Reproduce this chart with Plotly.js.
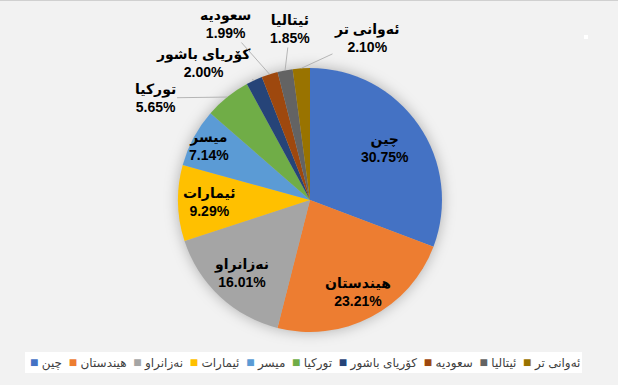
<!DOCTYPE html>
<html>
<head>
<meta charset="utf-8">
<script src="https://cdn.plot.ly/plotly-3.0.1.min.js"></script>
<style>
html,body{margin:0;padding:0;background:#f2f2f2;}
#chart{width:618px;height:385px;}
.pielayer .trace{filter:drop-shadow(0px 0px 7px rgba(0,0,0,0.28));}
</style>
</head>
<body>
<div id="chart"></div>
<script>
// ---- data ----
const categories = ["چین","هیندستان","نەزانراو","ئیمارات","میسر","تورکیا","کۆریای باشور","سعودیە","ئیتالیا","ئەوانی تر"];
const values = [30.75, 23.21, 16.01, 9.29, 7.14, 5.65, 2.00, 1.99, 1.85, 2.10];
const colors = ["#4472C4","#ED7D31","#A5A5A5","#FFC000","#5B9BD5","#70AD47","#264478","#9E480E","#636363","#997300"];

// ---- layout constants ----
const W = 618, H = 385;
const CX = 310, CY = 200, R = 132;
// inside labels: radius factor per slice index
const insideLabels = {0:0.69, 1:0.79, 2:0.76, 3:0.76, 4:0.87};
// outside labels: label centre (px from top-left)
const outsideLabels = {5:[155,98], 6:[203,63], 7:[225,24], 8:[290,29], 9:[367,38]};

const total = values.reduce((a,b)=>a+b,0);
let cum = 0;
const mids = values.map(v => { const m = (cum + v/2)/total; cum += v; return m; });

const fmt = v => v.toFixed(2) + "%";
const labelFont = {family:"Arial, 'Liberation Sans', 'DejaVu Sans', sans-serif", size:14, color:"#000"};
const annotations = [];
values.forEach((v,i) => {
  const th = 2*Math.PI*mids[i];
  const txt = "<b>" + categories[i] + "</b><br><b>" + fmt(v) + "</b>";
  if (insideLabels[i] !== undefined) {
    const r = R*insideLabels[i];
    const px = CX + r*Math.sin(th), py = CY - r*Math.cos(th);
    annotations.push({xref:"paper", yref:"paper", x:px/W, y:1-py/H, text:txt, showarrow:false,
      font:labelFont, xanchor:"center", yanchor:"middle", align:"center"});
  } else {
    const px = CX + R*Math.sin(th), py = CY - R*Math.cos(th);
    const [lx, ly] = outsideLabels[i];
    annotations.push({xref:"paper", yref:"paper", x:px/W, y:1-py/H, text:txt, showarrow:true,
      arrowhead:0, arrowwidth:0.8, arrowcolor:"#a6a6a6", ax:lx-px, ay:ly-py, standoff:0,
      font:labelFont, align:"center"});
  }
});

// custom legend (single row, LTR ordering)
const LRM = "\u200E", NB = "\u00A0";
const legendText = categories.map((c,i) =>
  LRM + '<span style="color:' + colors[i] + ';font-size:14px">■</span>' + LRM + NB + c + LRM
).join(NB+NB);
annotations.push({xref:"paper", yref:"paper", x:305/W, y:1-362.5/H, text:legendText, showarrow:false,
  font:{family:"Arial, 'Liberation Sans', 'DejaVu Sans', sans-serif", size:12, color:"#404040"},
  xanchor:"center", yanchor:"middle"});

const shapes = [
  {type:"rect", xref:"paper", yref:"paper", x0:25/W, x1:582/W, y0:1-373/H, y1:1-352/H,
   fillcolor:"#ffffff", line:{width:0}, layer:"below"},
  {type:"line", xref:"paper", yref:"paper", x0:0, x1:1, y0:1-0.5/H, y1:1-0.5/H,
   line:{color:"#d0d0d0", width:1}},
  {type:"rect", xref:"paper", yref:"paper", x0:584/W, x1:588/W, y0:1-39/H, y1:1-35/H,
   fillcolor:"#ffffff", line:{width:0}}
];

const trace = {
  type:"pie", labels:categories, values:values, sort:false, direction:"clockwise", rotation:0,
  marker:{colors:colors, line:{width:0}}, textinfo:"none", hoverinfo:"label+percent",
  showlegend:false,
  domain:{x:[(CX-R)/W, (CX+R)/W], y:[1-(CY+R)/H, 1-(CY-R)/H]}
};

Plotly.newPlot("chart", [trace], {
  width:W, height:H, margin:{l:0,r:0,t:0,b:0},
  paper_bgcolor:"#f2f2f2", plot_bgcolor:"#f2f2f2",
  showlegend:false, annotations:annotations, shapes:shapes
}, {staticPlot:true});
</script>
</body>
</html>
